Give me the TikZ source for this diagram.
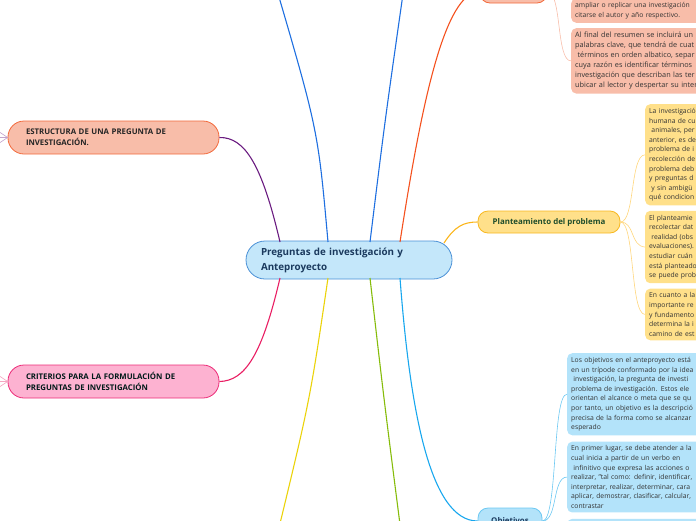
\documentclass[tikz,border=0pt]{standalone}
\usepackage{fontspec}
\setmainfont{Open Sans}
\usepackage{tikz}
\usetikzlibrary{positioning}
\definecolor{corefill}{HTML}{C4E7FA}
\definecolor{coredraw}{HTML}{4A90D6}
\definecolor{coretext}{HTML}{1B3A5E}
\definecolor{purpleline}{HTML}{6A1B80}
\definecolor{blueline}{HTML}{1E6FE0}
\definecolor{orangeline}{HTML}{F4511E}
\definecolor{goldline}{HTML}{FBB51A}
\definecolor{pinkline}{HTML}{E91E63}
\definecolor{yellowline}{HTML}{EBD30A}
\definecolor{greenline}{HTML}{86BC0B}
\definecolor{skyline}{HTML}{18A7EE}
\definecolor{salmon}{HTML}{F8BDA9}
\definecolor{salmondraw}{HTML}{F26A3C}
\definecolor{rosefill}{HTML}{FDB2D1}
\definecolor{rosedraw}{HTML}{EC2C78}
\definecolor{honey}{HTML}{FFE08A}
\definecolor{honeydraw}{HTML}{F8B820}
\definecolor{sky}{HTML}{B3E3FA}
\definecolor{skydraw}{HTML}{6CC8F2}
\definecolor{leaftext}{HTML}{333333}
\definecolor{darkgreen}{HTML}{1F4D2B}
\tikzset{
  every node/.style={font=\fontsize{6.8}{9.6}\selectfont},
}

\begin{document}
\begin{tikzpicture}[
    x=1pt, y=-1pt,
    core/.style={
      draw=coredraw, fill=corefill, line width=0.8pt, text=coretext,
      rounded corners=19pt, minimum width=206pt, minimum height=38pt,
      text width=176pt, align=left, inner xsep=15pt,
      font=\fontsize{9.8}{15}\selectfont\bfseries
    },
    topic/.style={
      line width=0.8pt, rounded corners=16pt, minimum width=211pt,
      minimum height=33pt, text width=175pt, align=left, inner xsep=18pt,
      font=\fontsize{7.8}{11}\selectfont\bfseries
    },
    sub/.style={
      line width=0.8pt, rounded corners=10pt, align=center,
      font=\fontsize{7.9}{10}\selectfont\bfseries
    },
    leaf/.style={
      rounded corners=5pt, text width=190pt, align=left,
      inner xsep=4pt, inner ysep=4pt, text=leaftext
    },
    branch/.style={line width=1.1pt},
    twig/.style={line width=0.6pt}
]
  \useasboundingbox (0,0) rectangle (696,520);
  \clip (0,0) rectangle (696,520);

  % main topic
  \node[core] (core) at (349,260) {Preguntas de investigación y\\Anteproyecto};

  % left topics
  \node[topic, draw=salmondraw, fill=salmon, text=black!85] (estructura) at (113.5,137.5)
    {ESTRUCTURA DE UNA PREGUNTA DE\\INVESTIGACIÓN.};
  \node[topic, draw=rosedraw, fill=rosefill, text=black!80!teal] (criterios) at (113.5,381.5)
    {CRITERIOS PARA LA FORMULACIÓN DE\\PREGUNTAS DE INVESTIGACIÓN};

  % right topics
  \node[sub, draw=salmondraw, fill=salmon, minimum width=67pt, minimum height=23pt] (resumen) at (513.5,-8.5) {};
  \node[sub, draw=honeydraw, fill=honey, text=darkgreen, minimum width=142pt, minimum height=22pt] (plant) at (549,222)
    {Planteamiento del problema};
  \node[sub, draw=skydraw, fill=sky, text=coretext, minimum width=64pt, minimum height=26pt] (obj) at (510,521)
    {Objetivos};

  % leaves of the top topic
  \node[leaf, fill=salmon, anchor=south west] (res1) at (571,23)
    {ampliar o replicar una investigación\\citarse el autor y año respectivo.};
  \node[leaf, fill=salmon, below=5pt of res1, font=\fontsize{7.3}{10}\selectfont] (res2)
    {Al final del resumen se incluirá un\\palabras clave, que tendrá de cuat\\\ términos en orden albatico, separ\\cuya razón es identificar términos\\investigación que describan las ter\\ubicar al lector y despertar su inter};

  % leaves of Planteamiento
  \node[leaf, fill=honey, anchor=north west] (pl1) at (645,104)
    {La investigació\\humana de cu\\\ animales, per\\anterior, es de\\problema de i\\recolección de\\problema deb\\y preguntas d\\\ y sin ambigü\\qué condicion};
  \node[leaf, fill=honey, below=5pt of pl1] (pl2)
    {El planteamie\\recolectar dat\\\ realidad (obs\\evaluaciones).\\estudiar cuán\\está planteado\\se puede prob};
  \node[leaf, fill=honey, below=5pt of pl2] (pl3)
    {En cuanto a la\\importante re\\y fundamento\\determina la i\\camino de est};

  % leaves of Objetivos
  \node[leaf, fill=sky, anchor=north west] (ob1) at (567,353)
    {Los objetivos en el anteproyecto está\\en un trípode conformado por la idea\\\ investigación, la pregunta de investi\\problema de investigación. Estos ele\\orientan el alcance o meta que se qu\\por tanto, un objetivo es la descripció\\precisa de la forma como se alcanzar\\esperado};
  \node[leaf, fill=sky, below=6pt of ob1] (ob2)
    {En primer lugar, se debe atender a la\\cual inicia a partir de un verbo en\\\ infinitivo que expresa las acciones o\\realizar, "tal como: definir, identificar,\\interpretar, realizar, determinar, cara\\aplicar, demostrar, clasificar, calcular,\\contrastar};
  \node[leaf, fill=sky, below=6pt of ob2] (ob3) {\strut};

  % attachment points on the main topic
  \coordinate (nw) at (280,242);
  \coordinate (nb1) at (328,242);
  \coordinate (nb2) at (370,242);
  \coordinate (no) at (400,242);
  \coordinate (ne) at (444,243);
  \coordinate (sw) at (280,278);
  \coordinate (sy) at (328,278);
  \coordinate (sg) at (370,278);
  \coordinate (ss) at (400,278);
  \coordinate (upleft) at (274,-20);
  \coordinate (upright) at (405,-20);
  \coordinate (downleft) at (276,540);
  \coordinate (downright) at (402,540);

  % branches
  \draw[branch, purpleline] (nw) .. controls (262,165) and (245,137) .. (estructura.east);
  \draw[branch, pinkline] (sw) .. controls (262,355) and (245,381) .. (criterios.east);
  \draw[branch, blueline] (nb1) .. controls (318,130) .. (upleft);
  \draw[branch, blueline] (nb2) .. controls (385,120) .. (upright);
  \draw[branch, orangeline] (no) .. controls (422,100) and (445,-8) .. (resumen.west);
  \draw[branch, goldline] (ne) .. controls (455,226) and (464,222) .. (plant.west);
  \draw[branch, yellowline] (sy) .. controls (310,400) .. (downleft);
  \draw[branch, greenline] (sg) .. controls (384,400) .. (downright);
  \draw[branch, skyline] (ss) .. controls (410,410) and (430,521) .. (obj.west);

  % twigs
  \draw[twig, salmon] (resumen.east) .. controls (562,-8) and (556,61) .. (res2.west);
  \draw[twig, honey!90!orange] (plant.east) .. controls (635,222) and (630,155) .. (pl1.west);
  \draw[twig, honey!90!orange] (plant.east) .. controls (635,222) and (630,246) .. (pl2.west);
  \draw[twig, honey!90!orange] (plant.east) .. controls (635,222) and (630,314) .. (pl3.west);
  \draw[twig, skydraw] (obj.east) .. controls (558,521) and (552,394) .. (ob1.west);
  \draw[twig, skydraw] (obj.east) .. controls (558,521) and (552,477) .. (ob2.west);
  \draw[twig, skydraw] (obj.east) .. controls (555,521) and (556,526) .. (ob3.west);

  % stubs on the left ends
  \foreach \dy in {-6,0,6} {
    \draw[twig, purpleline!40] (estructura.west) -- ++(-9,\dy);
    \draw[twig, pinkline!40] (criterios.west) -- ++(-9,\dy);
  }
\end{tikzpicture}
\end{document}
